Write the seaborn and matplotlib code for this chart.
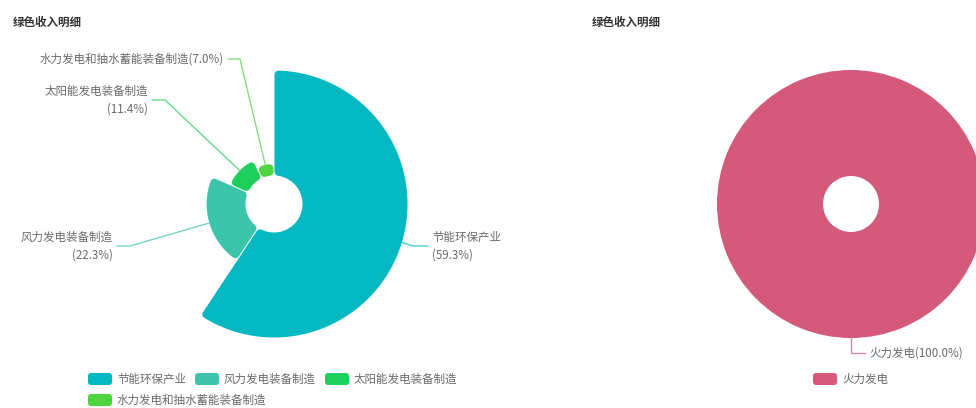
import numpy as np
import matplotlib
matplotlib.use("Agg")
import matplotlib.pyplot as plt
from matplotlib.patches import Polygon, FancyBboxPatch, Wedge
import seaborn as sns

# ---- data -------------------------------------------------------------
green_categories = ["节能环保产业", "风力发电装备制造", "太阳能发电装备制造", "水力发电和抽水蓄能装备制造"]
green_values = [59.3, 22.3, 11.4, 7.0]
green_colors = ["#03b8c0", "#3dc5ac", "#1fcf5d", "#4dd43f"]

other_categories = ["火力发电"]
other_values = [100.0]
other_colors = ["#d4597b"]

panel_title = "绿色收入明细"

# ---- style ------------------------------------------------------------
sns.set_theme(style="white")
plt.rcParams["font.family"] = ["Noto Sans CJK SC", "DejaVu Sans"]

W, H, DPI = 976, 408, 100
FS = 8.3
TEXT_C = "#6a6a6a"


def px2pt(px):
    return px * 72.0 / DPI


fig = plt.figure(figsize=(W / DPI, H / DPI), dpi=DPI)
ax = fig.add_axes([0, 0, 1, 1])
ax.set_xlim(0, W)
ax.set_ylim(H, 0)
ax.axis("off")


def polar_xy(cx, cy, theta_deg, r):
    t = np.radians(theta_deg)
    return cx + r * np.sin(t), cy - r * np.cos(t)


def rounded_sector(cx, cy, th1, th2, ri, ro, color, corner=4.0, gap=1.0):
    """Annular sector (angles clockwise from 12 o'clock) with rounded corners."""
    e = corner + gap / 2.0
    ri2, ro2 = ri + e, ro - e
    a_out = np.degrees(np.arcsin(min(1.0, e / ro2)))
    a_in = np.degrees(np.arcsin(min(1.0, e / ri2)))
    mid = (th1 + th2) / 2.0
    o1, o2 = min(th1 + a_out, mid), max(th2 - a_out, mid)
    i1, i2 = min(th1 + a_in, mid), max(th2 - a_in, mid)
    outer = np.linspace(o1, o2, 160)
    inner = np.linspace(i2, i1, 60)
    xo, yo = polar_xy(cx, cy, outer, ro2)
    xi, yi = polar_xy(cx, cy, inner, ri2)
    pts = np.column_stack([np.concatenate([xo, xi]), np.concatenate([yo, yi])])
    ax.add_patch(Polygon(pts, closed=True, facecolor=color, edgecolor=color,
                         linewidth=px2pt(2 * corner), joinstyle="round"))


def rose_pie(cx, cy, names, values, colors, r0, r1, layout, breaks):
    total = float(sum(values))
    vmax = max(values)
    start = 0.0
    for val, col, (ex, ey, lx), brk, name in zip(values, colors, layout, breaks, names):
        span = 360.0 * val / total
        radius = r0 + (r1 - r0) * val / vmax
        if span >= 359.999:
            ax.add_patch(Wedge((cx, cy), radius, 0, 360, width=radius - r0,
                               facecolor=col, edgecolor="none"))
        else:
            rounded_sector(cx, cy, start, start + span, r0, radius, col)
        # leader line from the middle of the outer arc
        sx, sy = polar_xy(cx, cy, start + span / 2.0, radius)
        ax.plot([sx, ex, lx], [sy, ey, ey], color=col, alpha=0.75,
                lw=px2pt(1.3), solid_capstyle="round")
        right = lx > ex
        label = f"{name}{brk}({100.0 * val / total:.1f}%)"
        ax.text(lx + (4 if right else -4), ey, label, ha="left" if right else "right",
                va="center", multialignment="left" if right else "right",
                fontsize=FS, color=TEXT_C, linespacing=1.45)
        start += span


def legend(x0, y0, names, colors, max_w, row_h=21, sw=24, sh=12):
    renderer = fig.canvas.get_renderer()
    x, y = x0, y0
    for name, col in zip(names, colors):
        t = ax.text(0, 0, name, fontsize=FS, color=TEXT_C, va="center", ha="left")
        tw = t.get_window_extent(renderer).width
        item_w = sw + 5 + tw
        if x > x0 and x + item_w - x0 > max_w:
            x, y = x0, y + row_h
        ax.add_patch(FancyBboxPatch((x, y - sh / 2), sw, sh,
                                    boxstyle="round,pad=0,rounding_size=3",
                                    facecolor=col, edgecolor="none"))
        t.set_position((x + sw + 5, y))
        x += item_w + 9


# titles
for tx in (13, 592):
    ax.text(tx, 22, panel_title, fontsize=FS, fontweight="bold", color="#333333",
            ha="left", va="center")

# left: rose pie
rose_pie(274, 204, green_categories, green_values, green_colors, 28, 134,
         layout=[(413, 246, 428), (130, 246, 117), (165, 100, 152), (240, 59, 228)],
         breaks=["\n", "\n", "\n", ""])
legend(88, 379, green_categories, green_colors, max_w=400)

# right: single-category donut
rose_pie(851, 204, other_categories, other_values, other_colors, 28, 134,
         layout=[(851, 353, 865)], breaks=[""])
legend(813, 379, other_categories, other_colors, max_w=150)

fig.savefig("out.png", dpi=DPI, facecolor="white")
